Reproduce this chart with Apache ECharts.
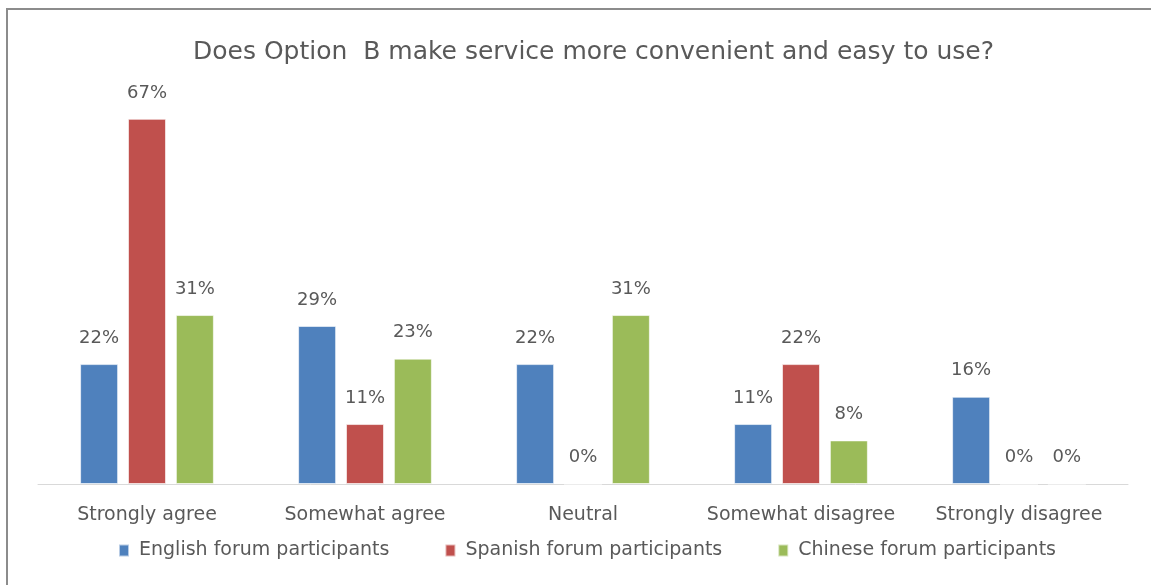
<!DOCTYPE html>
<html><head><meta charset="utf-8">
<script src="https://cdn.jsdelivr.net/npm/echarts@6/dist/echarts.min.js"></script>
<style>
html,body{margin:0;padding:0;background:#fff;overflow:hidden}
#frame{position:absolute;left:6px;top:8px;width:1200px;height:700px;border-top:2px solid #8c8c8c;border-left:2px solid #8c8c8c;}
#c{position:absolute;left:0;top:0;width:1151px;height:585px}
</style></head>
<body>
<div id="frame"></div>
<div id="c"></div>
<script>
const categories = ['Strongly agree','Somewhat agree','Neutral','Somewhat disagree','Strongly disagree'];
const seriesNames = ['English forum participants','Spanish forum participants','Chinese forum participants'];
const english = [22, 29, 22, 11, 16];
const spanish = [67, 11, 0, 22, 0];
const chinese = [31, 23, 31, 8, 0];
const colors = ['#4F81BD','#C0504D','#9BBB59'];
const FONT = 'DejaVu Sans';
const TXT = '#595959';

const chart = echarts.init(document.getElementById('c'), null, {renderer:'canvas'});
const mk = (name, data, color) => ({
  name, type:'bar', data, barWidth:38, barGap:'26%',
  itemStyle:{color, borderColor:'rgba(255,255,255,0.6)', borderWidth:1},
  label:{show:true, position:'top', distance:17, formatter:'{c}%', color:TXT, fontFamily:FONT, fontSize:18},
  emphasis:{disabled:true}, animation:false
});
chart.setOption({
  animation:false,
  title:{text:'Does Option  B make service more convenient and easy to use?', left:188, top:35,
    textStyle:{fontFamily:FONT, fontSize:25, fontWeight:'normal', color:TXT}},
  legend:{bottom:20, left:113, itemWidth:10, itemHeight:12, itemGap:55, icon:'rect',
    textStyle:{fontFamily:FONT, fontSize:19, color:TXT, padding:[0,0,0,5]}, data:seriesNames},
  grid:{left:38, right:23, top:102.5, bottom:101, containLabel:false},
  xAxis:{type:'category', data:categories,
    axisLine:{lineStyle:{color:'#D9D9D9', width:1}}, axisTick:{show:false},
    axisLabel:{color:TXT, fontFamily:FONT, fontSize:19, margin:22, interval:0}},
  yAxis:{type:'value', min:0, max:70, show:false, splitLine:{show:false}},
  series:[mk(seriesNames[0], english, colors[0]), mk(seriesNames[1], spanish, colors[1]), mk(seriesNames[2], chinese, colors[2])]
});
</script>
</body></html>
